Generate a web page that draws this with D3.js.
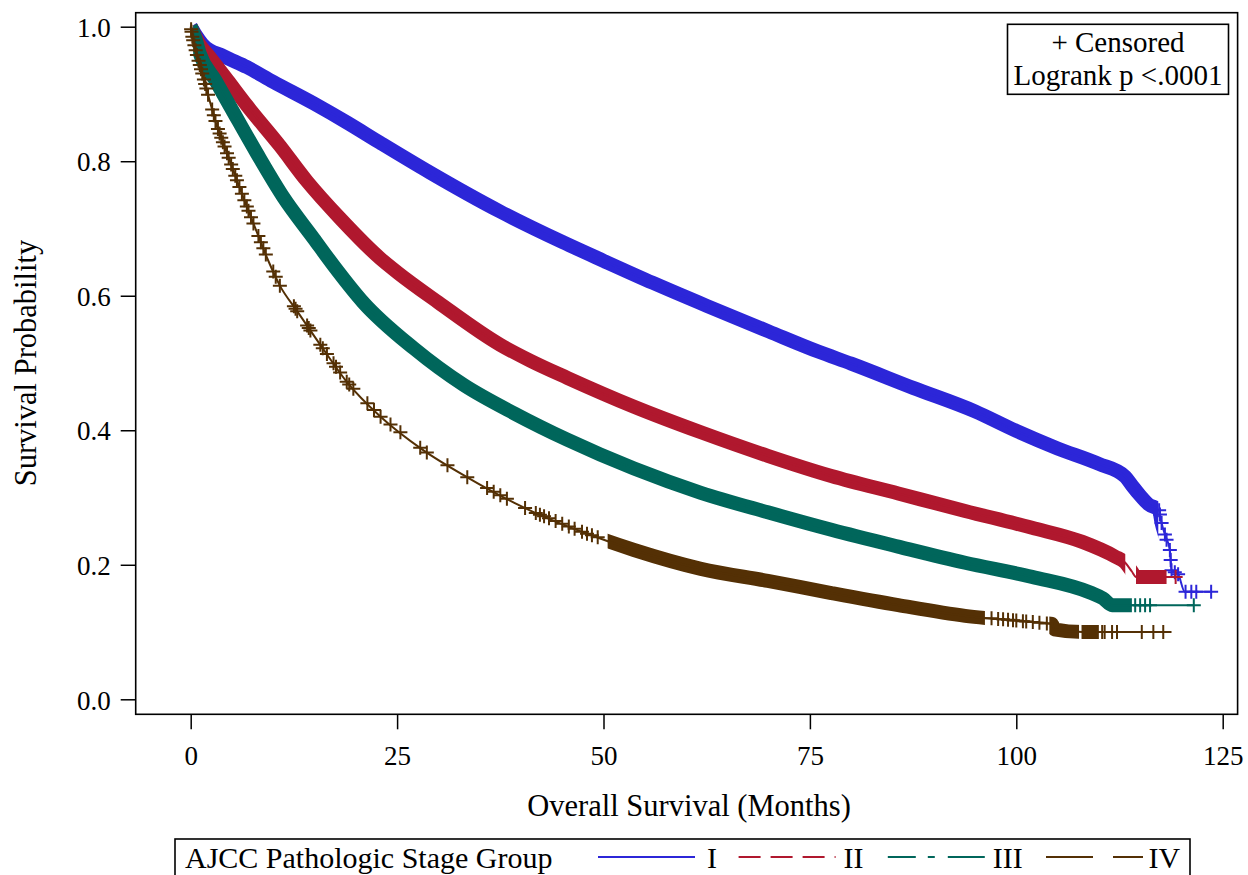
<!DOCTYPE html>
<html lang="en">
<head>
<meta charset="UTF-8">
<title>Overall Survival by AJCC Pathologic Stage Group</title>
<script src="https://d3js.org/d3.v7.min.js"></script>
<style>
  body { margin: 0; background: #fff; }
  svg { display: block; font-family: "Liberation Serif", "Times New Roman", serif; }
  .tick text { font-size: 27px; fill: #000; font-family: "Liberation Serif", "Times New Roman", serif; }
  .tick line { stroke: #000; stroke-width: 1.5; }
</style>
</head>
<body>
<svg id="chart" width="1248" height="875"></svg>
<script>
// ---- data ----
const stages = ["I", "II", "III", "IV"];
const stageColors = ["#2C26D8", "#B0182E", "#00665B", "#543005"];

// Kaplan-Meier curves, [months, survival]
const curveI = [[0,1],[0.5,0.99],[1.5,0.973],[4,0.956],[6.8,0.94],[10,0.918],[14.9,0.886],[19,0.857],
  [23,0.827],[29,0.783],[37.5,0.725],[45,0.68],[50,0.652],[56,0.619],[62.5,0.585],[70,0.547],[76,0.517],
  [80,0.499],[87.5,0.463],[95,0.428],[100,0.399],[105,0.373],[110,0.35],[113.2,0.331],[114,0.318],[115,0.303],
  [116,0.29],[117.3,0.281],[117.6,0.262],[118,0.245],[118.6,0.222],[118.8,0.192],[119.6,0.186],[120.4,0.16],[123.6,0.16]];
const curveII = [[0,1],[1,0.975],[2.3,0.955],[4.5,0.92],[6.8,0.883],[10.8,0.823],[14.1,0.77],[18.1,0.715],
  [23,0.655],[25,0.635],[30,0.59],[37.5,0.527],[41.2,0.503],[45.6,0.478],[53.7,0.435],[61.8,0.397],[69.9,0.362],
  [77.6,0.332],[85.7,0.306],[93.8,0.28],[101.9,0.255],[108,0.234],[112,0.212],[113.2,0.203],[114,0.19],
  [114.5,0.182],[119.3,0.182]];
const curveIII = [[0,1],[0.5,0.985],[1.1,0.96],[3,0.92],[4.8,0.881],[8,0.812],[11.2,0.747],[14.9,0.685],
  [17.3,0.645],[20.9,0.59],[27,0.522],[33.1,0.467],[39.2,0.425],[45.6,0.386],[53.7,0.343],[61.8,0.307],
  [69.9,0.278],[77.6,0.252],[85.7,0.227],[93.8,0.203],[101.9,0.182],[109.1,0.158],[110.5,0.15],[111.6,0.14],[121.5,0.14]];
const curveIV = [[0,1],[0.2,0.985],[0.7,0.96],[1.5,0.926],[2.3,0.89],[3.2,0.851],[4.4,0.812],[6.4,0.745],
  [8,0.695],[9.4,0.652],[10.8,0.615],[12.9,0.577],[15.7,0.527],[18.9,0.472],[23,0.42],[28.2,0.37],[33.5,0.33],
  [39.2,0.292],[41.6,0.278],[47.6,0.248],[53.7,0.222],[61.8,0.194],[69.9,0.176],[77.6,0.158],[85.7,0.14],
  [93.8,0.124],[101.9,0.115],[104.3,0.112],[104.6,0.104],[108,0.1],[118.8,0.1]];

// stretches where censor marks are so dense they merge into a solid band [from, to] months
const bandI = [[0.3, 117.2]];
const bandII = [[0.3, 113.2], [114.5, 118.2]];
const bandIII = [[0.3, 114.0]];
const bandIV = [[50.5, 96.2], [104.0, 107.6], [107.9, 110.0]];

// individual censor marks (months) outside the bands
const censorI = [117.3, 117.4, 117.6, 118.0, 118.2, 118.6, 118.7, 118.8, 119.2, 119.6, 120.5, 121.2, 121.8, 123.6];
const censorII = [119.3];
const censorIII = [114.4, 115.0, 115.6, 116.2, 121.5];
const censorIV = [0.05, 0.1, 0.2, 0.3, 0.45, 0.6, 0.75, 0.95, 1.1, 1.25, 1.4, 1.6, 1.75, 1.9, 2.1, 2.6, 2.8,
  3.0, 3.3, 3.5, 3.7, 3.9, 4.1, 4.4, 4.6, 4.9, 5.1, 5.4, 5.6, 5.9, 6.2, 6.5, 6.8, 7.0, 7.3, 7.6, 8.2, 8.5,
  8.8, 9.1, 10.0, 10.3, 10.8, 12.5, 12.7, 12.9, 14.1, 14.3, 14.5, 15.7, 16.0, 16.5, 17.3, 17.6, 18.1, 18.9,
  19.2, 19.7, 21.4, 22.2, 23.0, 24.2, 25.4, 27.8, 28.6, 31.1, 33.5, 35.9, 36.7, 37.5, 38.3, 40.5, 41.8, 42.3,
  42.8, 43.4, 44.2, 45.0, 45.8, 46.5, 47.4, 48.0, 48.6, 49.3, 97.0, 97.8, 98.4, 99.0, 99.6, 100.0, 100.8,
  101.2, 102.0, 102.8, 103.7, 108.8, 110.4, 110.7, 111.6, 112.2, 115.2, 116.6, 117.8];

const curves = [curveI, curveII, curveIII, curveIV];
const bands = [bandI, bandII, bandIII, bandIV];
const censors = [censorI, censorII, censorIII, censorIV];

const xTicks = [0, 25, 50, 75, 100, 125];
const yTicks = [0, 0.2, 0.4, 0.6, 0.8, 1.0];

// ---- layout ----
const svg = d3.select("#chart");
const frame = { left: 135.7, right: 1237.6, top: 12.7, bottom: 714.3 };
const x = d3.scaleLinear().domain([0, 125]).range([190.7, 1222.7]);
const y = d3.scaleLinear().domain([0, 1]).range([699.3, 26.7]);

// axes
const xAxis = svg.append("g")
  .attr("transform", `translate(0,${frame.bottom})`)
  .call(d3.axisBottom(x).tickValues(xTicks).tickSize(15).tickFormat(d3.format("d")));
xAxis.attr("font-family", null).attr("font-size", null);
xAxis.select(".domain").remove();
xAxis.selectAll(".tick text").attr("y", 51).attr("dy", 0);

const yAxis = svg.append("g")
  .attr("transform", `translate(${frame.left},0)`)
  .call(d3.axisLeft(y).tickValues(yTicks).tickSize(15).tickPadding(10).tickFormat(d3.format(".1f")));
yAxis.attr("font-family", null).attr("font-size", null);
yAxis.select(".domain").remove();
yAxis.selectAll(".tick text").attr("dy", "0.36em");

// clip for the plot area
const defs = svg.append("defs");
defs.append("clipPath").attr("id", "plot-clip")
  .append("rect")
  .attr("x", frame.left).attr("y", frame.top)
  .attr("width", frame.right - frame.left).attr("height", frame.bottom - frame.top);

const line = d3.line().curve(d3.curveMonotoneX).x(d => x(d[0])).y(d => y(d[1]));

// survival value at time t, used to sit the censor marks on their curve
function survAt(curve, t) {
  const i = d3.bisector(d => d[0]).right(curve, t);
  if (i <= 0) return curve[0][1];
  if (i >= curve.length) return curve[curve.length - 1][1];
  const a = curve[i - 1], b = curve[i];
  return a[1] + (b[1] - a[1]) * (t - a[0]) / (b[0] - a[0]);
}

const plot = svg.append("g").attr("clip-path", "url(#plot-clip)");

curves.forEach((curve, k) => {
  const color = stageColors[k];
  const g = plot.append("g");

  // dense censor band
  const clipId = "band-clip-" + k;
  defs.append("clipPath").attr("id", clipId)
    .selectAll("rect").data(bands[k]).join("rect")
    .attr("x", d => x(d[0])).attr("y", 0)
    .attr("width", d => x(d[1]) - x(d[0])).attr("height", 875);
  g.append("path")
    .datum(curve)
    .attr("clip-path", `url(#${clipId})`)
    .attr("fill", "none")
    .attr("stroke", color)
    .attr("stroke-width", 14)
    .attr("stroke-linejoin", "round")
    .attr("d", line);

  // survival curve
  g.append("path")
    .datum(curve)
    .attr("fill", "none")
    .attr("stroke", color)
    .attr("stroke-width", 2)
    .attr("d", line);

  // censor marks
  g.selectAll("path.censor")
    .data(censors[k]).join("path")
    .attr("class", "censor")
    .attr("fill", "none")
    .attr("stroke", color)
    .attr("stroke-width", 2)
    .attr("d", t => {
      const cx = x(t), cy = y(survAt(curve, t));
      return `M${cx - 7},${cy}H${cx + 7}M${cx},${cy - 7}V${cy + 7}`;
    });
});

// frame
svg.append("rect")
  .attr("x", frame.left).attr("y", frame.top)
  .attr("width", frame.right - frame.left).attr("height", frame.bottom - frame.top)
  .attr("fill", "none").attr("stroke", "#000").attr("stroke-width", 1.6);

// axis titles
svg.append("text")
  .attr("x", 689).attr("y", 816)
  .attr("text-anchor", "middle")
  .attr("font-size", 30.5)
  .text("Overall Survival (Months)");

svg.append("text")
  .attr("transform", "translate(36,363) rotate(-90)")
  .attr("text-anchor", "middle")
  .attr("font-size", 30.5)
  .text("Survival Probability");

// inset box
svg.append("rect")
  .attr("x", 1007.5).attr("y", 24.3).attr("width", 221).attr("height", 70)
  .attr("fill", "#fff").attr("stroke", "#000").attr("stroke-width", 1.6);
svg.append("text")
  .attr("x", 1118).attr("y", 52).attr("text-anchor", "middle").attr("font-size", 29)
  .text("+ Censored");
svg.append("text")
  .attr("x", 1118).attr("y", 85).attr("text-anchor", "middle").attr("font-size", 29)
  .text("Logrank p <.0001");

// legend
const legendDash = [null, "22,10", "28,12,7,13,40", "47,20"];
const legendLineX = [598, 738.6, 887.8, 1046];
const legendLabelX = [707, 843.6, 992.8, 1148.6];
svg.append("rect")
  .attr("x", 175).attr("y", 839).attr("width", 1015).attr("height", 60)
  .attr("fill", "none").attr("stroke", "#000").attr("stroke-width", 1.6);
svg.append("text")
  .attr("x", 185).attr("y", 868).attr("font-size", 30)
  .text("AJCC Pathologic Stage Group");
const legend = svg.append("g");
stages.forEach((s, k) => {
  legend.append("line")
    .attr("x1", legendLineX[k]).attr("x2", legendLineX[k] + 97)
    .attr("y1", 857).attr("y2", 857)
    .attr("stroke", stageColors[k]).attr("stroke-width", 2)
    .attr("stroke-dasharray", legendDash[k]);
  legend.append("text")
    .attr("x", legendLabelX[k]).attr("y", 868).attr("font-size", 30)
    .text(s);
});
</script>
</body>
</html>
